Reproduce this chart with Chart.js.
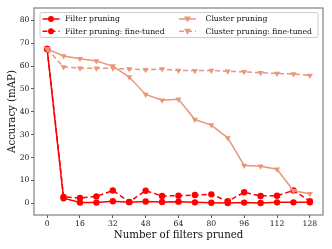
<!DOCTYPE html>
<html>
<head>
<meta charset="utf-8">
<script src="https://cdn.jsdelivr.net/npm/chart.js@4"></script>
<style>
  html, body { margin: 0; padding: 0; background: #fff; }
  #wrap { width: 332px; height: 249px; }
</style>
</head>
<body>
<div id="wrap"><canvas id="chart" width="332" height="249"></canvas></div>
<script>
var filtersPruned = [0, 8, 16, 24, 32, 40, 48, 56, 64, 72, 80, 88, 96, 104, 112, 120, 128];
var filterPruning = [67.5, 2.2, 0.3, 0.3, 0.9, 0.5, 0.8, 0.6, 0.7, 0.4, 0.2, 0.1, 0.3, 0.1, 0.4, 0.4, 0.4];
var filterFineTuned = [67.5, 2.8, 2.3, 3.0, 5.6, 0.6, 5.5, 3.2, 3.3, 3.6, 3.9, 0.9, 4.8, 3.2, 3.3, 5.6, 0.9];
var clusterPruning = [67.5, 64.4, 63.2, 62.2, 60.0, 55.2, 47.6, 45.1, 45.5, 36.6, 34.2, 28.6, 16.5, 16.2, 14.9, 5.5, 4.2];
var clusterFineTuned = [67.5, 59.6, 59.1, 59.1, 59.0, 58.7, 58.4, 58.7, 58.1, 58.0, 58.1, 57.7, 57.5, 57.1, 56.8, 56.5, 55.9];
var xTicks = [0, 16, 32, 48, 64, 80, 96, 112, 128];
var yTicks = [0, 10, 20, 30, 40, 50, 60, 70, 80];

var RED = '#ff0000';
var SALMON = '#e9967a';
var FONT = "'DejaVu Serif', serif";

function pts(ys) {
    var out = [];
    for (var i = 0; i < filtersPruned.length; i++) {
        out.push({x: filtersPruned[i], y: ys[i]});
    }
    return out;
}

function makeSet(label, ys, color, dashed, marker, order) {
    return {
        label: label,
        data: pts(ys),
        borderColor: color,
        backgroundColor: color,
        borderWidth: 1.5,
        borderDash: dashed ? [5, 3] : [],
        pointStyle: marker,
        pointRotation: marker == 'triangle' ? 180 : 0,
        pointRadius: marker == 'triangle' ? 3.5 : 3.2,
        pointBorderWidth: 0,
        pointHoverRadius: 3,
        order: order,
        tension: 0
    };
}

var datasets = [
    makeSet('Filter pruning', filterPruning, RED, false, 'circle', 4),
    makeSet('Filter pruning: fine-tuned', filterFineTuned, RED, true, 'circle', 3),
    makeSet('Cluster pruning', clusterPruning, SALMON, false, 'triangle', 2),
    makeSet('Cluster pruning: fine-tuned', clusterFineTuned, SALMON, true, 'triangle', 1)
];

// frame round the plot
var framePlugin = {
    id: 'frame',
    afterDatasetsDraw: function (chart) {
        var a = chart.chartArea, ctx = chart.ctx;
        ctx.save();
        ctx.strokeStyle = '#808080';
        ctx.lineWidth = 1.2;
        ctx.strokeRect(a.left, a.top, a.right - a.left, a.bottom - a.top);
        ctx.restore();
    }
};

// legend drawn inside the plot, two columns
var legendPlugin = {
    id: 'insideLegend',
    afterDraw: function (chart) {
        var ctx = chart.ctx;
        var bx = 40, by = 12.5, bw = 278, bh = 25;
        ctx.save();
        ctx.fillStyle = 'rgba(255,255,255,0.8)';
        ctx.strokeStyle = '#cccccc';
        ctx.lineWidth = 1;
        ctx.beginPath();
        ctx.roundRect(bx, by, bw, bh, 2);
        ctx.fill();
        ctx.stroke();
        var cols = [{hx: 42.5, tx: 65}, {hx: 179, tx: 205.5}];
        var rows = [19, 31.3];
        ctx.font = '7.7px ' + FONT;
        ctx.textBaseline = 'middle';
        for (var i = 0; i < datasets.length; i++) {
            var d = datasets[i];
            var c = cols[Math.floor(i / 2)], y = rows[i % 2];
            ctx.strokeStyle = d.borderColor;
            ctx.lineWidth = 1.5;
            ctx.setLineDash(d.borderDash);
            ctx.beginPath();
            ctx.moveTo(c.hx, y);
            ctx.lineTo(c.hx + 17, y);
            ctx.stroke();
            ctx.setLineDash([]);
            ctx.fillStyle = d.borderColor;
            var mx = c.hx + 8.5;
            ctx.beginPath();
            if (d.pointStyle == 'triangle') {
                ctx.moveTo(mx - 3.5, y - 2.5);
                ctx.lineTo(mx + 3.5, y - 2.5);
                ctx.lineTo(mx, y + 3.5);
                ctx.closePath();
            } else {
                ctx.arc(mx, y, 3, 0, Math.PI * 2);
            }
            ctx.fill();
            ctx.fillStyle = '#111';
            ctx.fillText(d.label, c.tx, y + 0.5);
        }
        ctx.restore();
    }
};

new Chart(document.getElementById('chart').getContext('2d'), {
    type: 'line',
    data: { datasets: datasets },
    options: {
        responsive: false,
        animation: false,
        devicePixelRatio: 1,
        layout: { padding: { top: 8, right: 9, left: 0, bottom: 0 } },
        plugins: {
            legend: { display: false },
            tooltip: { enabled: false }
        },
        scales: {
            x: {
                type: 'linear',
                min: -6.4,
                max: 134.4,
                afterBuildTicks: function (scale) {
                    scale.ticks = xTicks.map(function (v) { return {value: v}; });
                },
                afterFit: function (scale) { scale.height = 34; },
                grid: { drawOnChartArea: false, drawTicks: true, tickLength: 3, tickColor: '#555', tickWidth: 1 },
                border: { display: false },
                ticks: { color: '#222', font: { family: FONT, size: 7.7 }, padding: 1.5, maxRotation: 0, autoSkip: false },
                title: { display: true, text: 'Number of filters pruned', color: '#111',
                         font: { family: FONT, size: 10.2 }, padding: { top: 0, bottom: 8 } }
            },
            y: {
                type: 'linear',
                min: -5.13,
                max: 85.4,
                afterBuildTicks: function (scale) {
                    scale.ticks = yTicks.map(function (v) { return {value: v}; });
                },
                afterFit: function (scale) { scale.width = 34; },
                grid: { drawOnChartArea: false, drawTicks: true, tickLength: 3, tickColor: '#555', tickWidth: 1 },
                border: { display: false },
                ticks: { color: '#222', font: { family: FONT, size: 7.7 }, padding: 1.5 },
                title: { display: true, text: 'Accuracy (mAP)', color: '#111',
                         font: { family: FONT, size: 10.2 }, padding: { top: 6, bottom: 0 } }
            }
        }
    },
    plugins: [framePlugin, legendPlugin]
});
</script>
</body>
</html>
